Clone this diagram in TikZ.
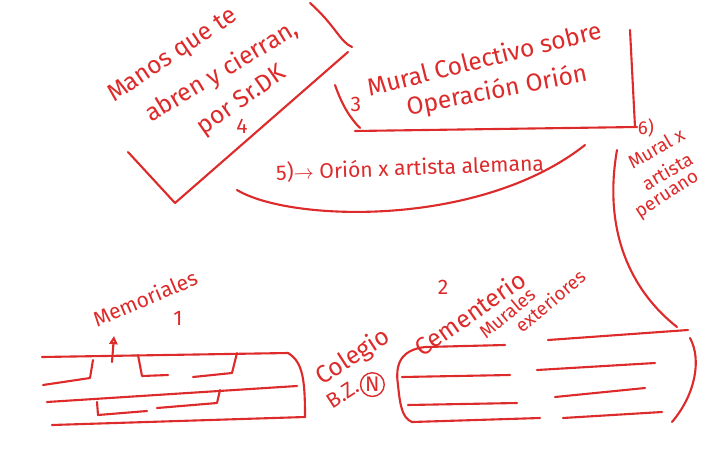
\documentclass[tikz,border=0pt]{standalone}
\usepackage{fontspec}
\setmainfont{Fira Sans}
\usetikzlibrary{arrows.meta,positioning}

\begin{document}
\begin{tikzpicture}[x=0.03cm,y=-0.03cm,
  ink/.style={draw=inkred,line width=1.8pt,line cap=round,line join=round},
  hand/.style={text=inkred,inner sep=0pt,font=\fontsize{18}{20}\selectfont},
  big/.style={hand,font=\fontsize{21}{24}\selectfont},
  small/.style={hand,font=\fontsize{16}{18}\selectfont}]
\definecolor{inkred}{HTML}{DD2A2A}
\useasboundingbox[fill=white] (0,0) rectangle (711,473);

% 4: Manos que te abren y cierran
\draw[ink] (310,3) .. controls (335,25) and (340,42) .. (352,47);
\draw[ink] (128,152) -- (175,203) -- (348,52);
\node[big,rotate=34] (manos1) at (173,56) {Manos que te};
\node[big,rotate=31] (manos2) at (222,72) {abren y cierran,};
\node[big,rotate=35] (manos3) at (242,101) {por Sr.DK};
\node[hand] (num4) at (242,126) {4};

% 3: Mural colectivo
\draw[ink] (335,85) .. controls (342,105) and (350,118) .. (360,128);
\draw[ink] (355,131) -- (637,127);
\draw[ink] (630,30) -- (635,127);
\node[big,rotate=14] (mural1) at (484,58) {Mural Colectivo sobre};
\node[big,rotate=11] (mural2) at (497,91) {Operación Orión};
\node[hand] (num3) at (356,104) {3};

% 5: Orion x artista alemana
\draw[ink] (237,190) .. controls (290,222) and (480,228) .. (585,145);
\node[hand,rotate=2] (orion5) at (410,168) {5)$\to$ Orión x artista alemana};

% 6: Mural x artista peruano
\draw[ink] (617,150) .. controls (603,230) and (630,290) .. (677,327);
\node[small] (num6) at (646,128) {6)};
\node[small,rotate=30] (peru1) at (656,148) {Mural x};
\node[small,rotate=30] (peru2) at (667,171) {artista};
\node[small,rotate=33] (peru3) at (668,196) {peruano};

% 1: Memoriales
\draw[ink] (42,357) -- (288,353) .. controls (303,362) and (305,380) .. (305,417);
\draw[ink] (52,425) -- (305,417);
\draw[ink] (47,402) -- (297,386);
\draw[ink] (43,385) -- (90,378) -- (93,360);
\draw[ink] (138,355) -- (142,376) -- (168,375);
\draw[ink] (193,377) -- (232,373) -- (237,353);
\draw[ink] (97,402) -- (98,415) -- (147,411);
\draw[ink] (157,408) -- (217,403) -- (220,390);
\draw[ink,-{Triangle[open,length=7pt,width=7pt]}] (112,362) -- (114,336);
\node[hand,rotate=23] (memo) at (145,298) {Memoriales};
\node[hand] (num1) at (178,318) {1};

% Colegio
\node[big,rotate=33] (colegio) at (353,357) {Colegio};
\node[hand,rotate=33] (bz) at (343,394) {B.Z.};
\node[hand,draw=inkred,line width=1.2pt,circle,inner sep=1pt,anchor=west] (bzn) at ([xshift=2pt]bz.east) {N};

% 2: Cementerio murales exteriores
\draw[ink] (505,345) -- (425,347) .. controls (400,350) and (395,365) .. (398,385)
  .. controls (400,405) and (402,418) .. (412,422) -- (540,418);
\draw[ink] (548,340) -- (688,330);
\draw[ink] (690,338) .. controls (702,360) and (695,395) .. (672,422);
\foreach \xa/\ya/\xb/\yb in {402/377/510/375,537/370/655/363,408/405/517/403,555/397/645/388,563/418/662/412} {
  \draw[ink] (\xa,\ya) -- (\xb,\yb);
}
\node[hand] (num2) at (443,287) {2};
\node[big,rotate=35] (cement) at (470,313) {Cementerio};
\node[small,rotate=40] (murales) at (507,313) {Murales};
\node[small,rotate=40] (exter) at (550,301) {exteriores};
\end{tikzpicture}
\end{document}
